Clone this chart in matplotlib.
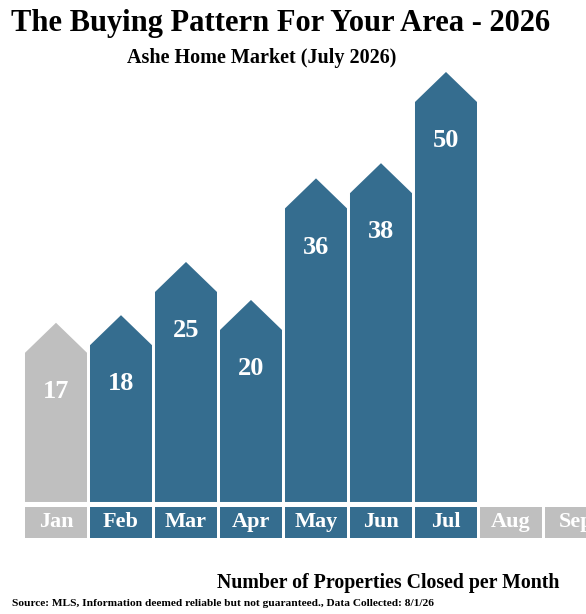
import numpy as np
import matplotlib
matplotlib.use("Agg")
import matplotlib.pyplot as plt
from matplotlib.patches import Polygon

months = ["Jan", "Feb", "Mar", "Apr", "May", "Jun", "Jul", "Aug", "Sep"]
closed = [17, 18, 25, 20, 36, 38, 50]
highlight = [False, True, True, True, True, True, True]  # Jan shown in grey

BLUE = "#356d8f"
GREY = "#bfbfbf"

plt.rcParams['font.family'] = ['Liberation Serif', 'DejaVu Serif']

fig = plt.figure(figsize=(5.86, 6.14), dpi=100)
ax = fig.add_axes([0, 0, 1, 1])
# one month = 65 px, one unit = 7.6 px
ax.set_xlim(-0.8615, 8.154)
ax.set_ylim(-17.37, 63.42)
ax.axis("off")

w = 0.954
base = -2.63   # bar bottom
tip = 3.95     # roof height

for i, v in enumerate(closed):
    col = BLUE if highlight[i] else GREY
    pts = [(i - w / 2, base), (i + w / 2, base), (i + w / 2, v),
           (i, v + tip), (i - w / 2, v)]
    ax.add_patch(Polygon(pts, closed=True, facecolor=col, edgecolor="none"))
    ax.text(i, v - 5.1, str(v), ha="center", va="center", color="white",
            fontsize=19, fontweight="bold")

# month band
band_lo, band_hi = -7.37, -3.29
x = np.arange(len(months))
cols = [BLUE if (i < len(highlight) and highlight[i]) else GREY for i in x]
ax.bar(x, band_hi - band_lo, bottom=band_lo, width=w, color=cols, linewidth=0)
for i, m in enumerate(months):
    ax.text(i, (band_lo + band_hi) / 2, m, ha="center", va="center",
            color="white", fontsize=16, fontweight="bold", clip_on=True)

fig.text(0.478, 1 - 23 / 614, "The Buying Pattern For Your Area - 2026",
         ha="center", va="center", fontsize=22, fontweight="bold")
fig.text(0.447, 1 - 58 / 614, "Ashe Home Market (July 2026)",
         ha="center", va="center", fontsize=14.5, fontweight="bold")
fig.text(0.662, 1 - 583 / 614, "Number of Properties Closed per Month",
         ha="center", va="center", fontsize=14.3, fontweight="bold")
fig.text(12 / 586, 1 - 604 / 614,
         "Source: MLS, Information deemed reliable but not guaranteed., Data Collected: 8/1/26",
         ha="left", va="center", fontsize=8.2, fontweight="bold")

fig.savefig("out.png", dpi=100)
